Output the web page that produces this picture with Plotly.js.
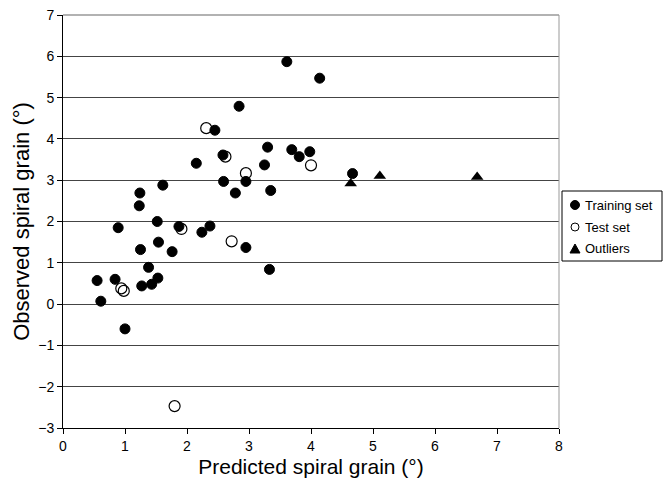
<!DOCTYPE html>
<html>
<head>
<meta charset="utf-8">
<script src="https://cdn.plot.ly/plotly-3.0.1.min.js"></script>
<style>html,body{margin:0;padding:0;background:#fff;}#chart{width:668px;height:495px;}</style>
</head>
<body>
<div id="chart"></div>
<script>
var trainX = [0.55,0.61,0.84,0.89,1.00,1.24,1.23,1.25,1.27,1.38,1.43,1.53,1.54,1.52,1.61,1.76,1.87,2.15,2.24,2.37,2.45,2.58,2.59,2.78,2.84,2.95,2.95,3.25,3.30,3.35,3.33,3.61,3.69,3.81,3.98,4.14,4.67];
var trainY = [0.57,0.07,0.60,1.85,-0.60,2.69,2.38,1.32,0.44,0.89,0.48,0.63,1.50,2.00,2.88,1.27,1.88,3.41,1.74,1.89,4.21,3.61,2.97,2.69,4.79,2.97,1.37,3.37,3.80,2.75,0.84,5.87,3.74,3.57,3.69,5.47,3.16];
var testX = [0.94,0.98,1.91,1.80,2.31,2.62,2.72,2.95,4.00];
var testY = [0.38,0.32,1.82,-2.47,4.26,3.57,1.52,3.17,3.36];
var outX = [4.64,5.11,6.68];
var outY = [2.92,3.10,3.08];
var seriesNames = ["Training set","Test set","Outliers"];

var font = "Liberation Sans, Arial, sans-serif";
var traces = [
  {x: trainX, y: trainY, type: "scatter", mode: "markers", name: seriesNames[0],
   marker: {symbol: "circle", size: 10, color: "#000", line: {color: "#000", width: 1}}},
  {x: testX, y: testY, type: "scatter", mode: "markers", name: seriesNames[1],
   marker: {symbol: "circle-open", size: 11, color: "#000", line: {color: "#000", width: 1.2}}},
  {x: outX, y: outY, type: "scatter", mode: "markers", name: seriesNames[2],
   marker: {symbol: "triangle-up", size: 11, color: "#000"}}
];

// manual legend (pixel-placed relative to the plot area)
var L = 63, T = 15, W = 496, H = 413;
function px(v){ return (v - L) / W; }
function py(v){ return (T + H - v) / H; }
var legY = [205, 227, 249];
var shapes = [
  {type: "line", xref: "paper", yref: "paper", x0: 0, x1: 1, y0: 1, y1: 1, line: {color: "#999", width: 1.5}},
  {type: "line", xref: "paper", yref: "paper", x0: 1, x1: 1, y0: 0, y1: 1, line: {color: "#999", width: 1}},
  {type: "rect", xref: "paper", yref: "paper", x0: px(562), x1: px(662), y0: py(261), y1: py(191),
   line: {color: "#000", width: 1}, fillcolor: "#fff", layer: "above"},
  {type: "circle", xref: "paper", yref: "paper", xsizemode: "pixel", ysizemode: "pixel",
   xanchor: px(575), yanchor: py(legY[0]), x0: -4.5, x1: 4.5, y0: -4.5, y1: 4.5,
   fillcolor: "#000", line: {color: "#000", width: 1}, layer: "above"},
  {type: "circle", xref: "paper", yref: "paper", xsizemode: "pixel", ysizemode: "pixel",
   xanchor: px(575), yanchor: py(legY[1]), x0: -4, x1: 4, y0: -4, y1: 4,
   fillcolor: "rgba(0,0,0,0)", line: {color: "#000", width: 1}, layer: "above"},
  {type: "path", xref: "paper", yref: "paper", xsizemode: "pixel", ysizemode: "pixel",
   xanchor: px(575), yanchor: py(legY[2]), path: "M-5,-4 L5,-4 L0,5 Z",
   fillcolor: "#000", line: {color: "#000", width: 1}, layer: "above"}
];
var annotations = seriesNames.map(function(n, i){
  return {text: n, xref: "paper", yref: "paper", x: px(583), y: py(legY[i]),
          xanchor: "left", yanchor: "middle", showarrow: false,
          font: {family: font, size: 13, color: "#000"}};
});

var layout = {
  width: 668, height: 495,
  margin: {l: 63, r: 109, t: 15, b: 67, pad: 0},
  paper_bgcolor: "#fff", plot_bgcolor: "#fff",
  font: {family: font, color: "#000", size: 13},
  showlegend: false,
  xaxis: {range: [0, 8], dtick: 1, tick0: 0, showgrid: false, zeroline: false,
          showline: true, linecolor: "#000", linewidth: 1,
          ticks: "outside", ticklen: 5, tickcolor: "#000",
          tickfont: {family: font, size: 14, color: "#000"},
          title: {text: "Predicted spiral grain (°)", font: {family: font, size: 21, color: "#000"}, standoff: 6}},
  yaxis: {range: [-3, 7], dtick: 1, tick0: 0, showgrid: true, gridcolor: "#444", gridwidth: 1,
          zeroline: false, showline: true, linecolor: "#000", linewidth: 1,
          ticks: "outside", ticklen: 5, tickcolor: "#000",
          tickfont: {family: font, size: 14, color: "#000"},
          title: {text: "Observed spiral grain (°)", font: {family: font, size: 22, color: "#000"}, standoff: 2}},
  shapes: shapes,
  annotations: annotations
};
Plotly.newPlot("chart", traces, layout, {displayModeBar: false, staticPlot: true});
</script>
</body>
</html>
